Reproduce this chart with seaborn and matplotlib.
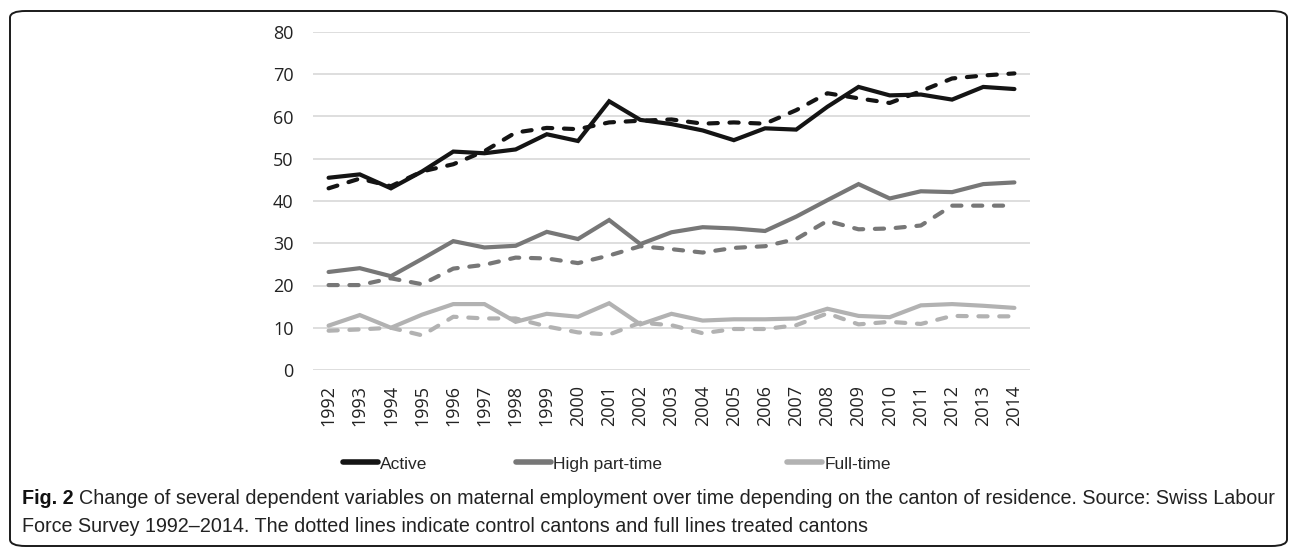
import numpy as np
import pandas as pd
import matplotlib
matplotlib.use("Agg")
import matplotlib.pyplot as plt
import seaborn as sns
from matplotlib.patches import FancyBboxPatch
from matplotlib.lines import Line2D

# data
years = list(range(1992, 2015))

active_treated = [45.5, 46.3, 43.0, 47.0, 51.7, 51.3, 52.2, 55.8, 54.2, 63.6, 59.2, 58.2,
                  56.7, 54.4, 57.2, 56.9, 62.3, 67.0, 65.0, 65.2, 64.0, 67.0, 66.5]
active_control = [43.0, 45.3, 43.5, 47.0, 48.7, 51.8, 56.2, 57.3, 57.0, 58.6, 59.0, 59.3,
                  58.3, 58.6, 58.3, 61.5, 65.5, 64.3, 63.2, 66.0, 69.0, 69.7, 70.2]
hpt_treated = [23.2, 24.1, 22.2, 26.3, 30.5, 29.0, 29.4, 32.7, 31.0, 35.5, 29.8, 32.6,
               33.8, 33.5, 32.9, 36.3, 40.2, 44.0, 40.6, 42.3, 42.1, 44.0, 44.4]
hpt_control = [20.1, 20.1, 21.7, 20.3, 24.0, 24.9, 26.6, 26.4, 25.3, 27.1, 29.3, 28.6,
               27.8, 28.9, 29.3, 31.0, 35.3, 33.3, 33.5, 34.2, 38.9, 38.9, 38.9]
ft_treated = [10.5, 13.0, 10.0, 13.1, 15.6, 15.6, 11.4, 13.3, 12.6, 15.8, 10.8, 13.3,
              11.7, 12.0, 12.0, 12.2, 14.5, 12.8, 12.5, 15.3, 15.6, 15.2, 14.7]
ft_control = [9.3, 9.6, 10.0, 8.2, 12.6, 12.2, 12.2, 10.3, 8.9, 8.4, 11.2, 10.6,
              8.7, 9.7, 9.7, 10.6, 13.4, 10.8, 11.4, 10.9, 12.8, 12.7, 12.7]

labels = ["Active", "High part-time", "Full-time"]
colors = ["#141414", "#777777", "#b2b2b2"]

sns.set_style("white")
plt.rcParams['font.family'] = ['Open Sans', 'DejaVu Sans']

W, H = 1296, 552
fig = plt.figure(figsize=(W / 100, H / 100), dpi=100)
ax = fig.add_axes([313 / W, 1 - 370 / H, (1030 - 313) / W, (370 - 32) / H])

series = [
    (active_treated, active_control),
    (hpt_treated, hpt_control),
    (ft_treated, ft_control),
]

# control cantons (dashed) first, treated (solid) on top
for i in [2, 1, 0]:
    treated, control = series[i]
    df_c = pd.DataFrame({'year': years, 'value': control})
    df_t = pd.DataFrame({'year': years, 'value': treated})
    sns.lineplot(data=df_c, x='year', y='value', ax=ax, color=colors[i], lw=3.0,
                 solid_capstyle='round', dash_capstyle='round', linestyle=(0, (2.2, 2.8)))
    sns.lineplot(data=df_t, x='year', y='value', ax=ax, color=colors[i], lw=3.0,
                 solid_capstyle='round', solid_joinstyle='miter')

ax.set_xlim(1991.5, 2014.5)
ax.set_ylim(0, 80)
ax.set_yticks(range(0, 81, 10))
ax.set_xticks(years)
ax.set_xticklabels([str(y) for y in years], rotation=90)
ax.tick_params(axis='both', length=0, labelsize=13, colors='#222222')
ax.tick_params(axis='y', pad=14)
ax.tick_params(axis='x', pad=11)
ax.set_xlabel("")
ax.set_ylabel("")
ax.grid(axis='y', color='#d4d4d4', lw=1.1)
ax.grid(axis='x', visible=False)
for s in ax.spines.values():
    s.set_visible(False)

# legend: one entry per series, placed where the reference has them
leg_x = [343, 516, 787]
for lab, c, x in zip(labels, colors, leg_x):
    h = Line2D([0], [0], color=c, lw=4, solid_capstyle='round')
    lg = fig.legend([h], [lab], loc='center left', bbox_to_anchor=(x / W, 1 - 464 / H),
                    frameon=False, handlelength=2.0, handletextpad=0.15, borderpad=0,
                    borderaxespad=0, prop={'family': ['Liberation Sans', 'DejaVu Sans'], 'size': 12.5})

# outer rounded frame
frame = FancyBboxPatch((10 / W, 6 / H), 1277 / W, 535 / H,
                       boxstyle="round,pad=0,rounding_size=0.012", transform=fig.transFigure,
                       fill=False, edgecolor='#1a1a1a', lw=1.4)
fig.patches.append(frame)

# caption (shrink until the first line fits inside the frame)
cap_font = ['Liberation Sans', 'DejaVu Sans']
line1 = "Change of several dependent variables on maternal employment over time depending on the canton of residence. Source: Swiss Labour"
line2 = "Force Survey 1992\u20132014. The dotted lines indicate control cantons and full lines treated cantons"
fs = 15
while True:
    t1 = fig.text(22 / W, 1 - 498 / H, "Fig. 2", fontsize=fs, fontweight='bold',
                  family=cap_font, va='center', color='#111111')
    fig.canvas.draw()
    bb = t1.get_window_extent()
    t2 = fig.text((bb.x1 + 5) / W, 1 - 498 / H, line1, fontsize=fs, family=cap_font,
                  va='center', color='#222222')
    fig.canvas.draw()
    if t2.get_window_extent().x1 <= 1281 or fs < 9:
        break
    t1.remove()
    t2.remove()
    fs -= 0.1
fig.text(22 / W, 1 - 527 / H, line2, fontsize=fs, family=cap_font, va='center', color='#222222')

fig.savefig("out.png", dpi=100)
